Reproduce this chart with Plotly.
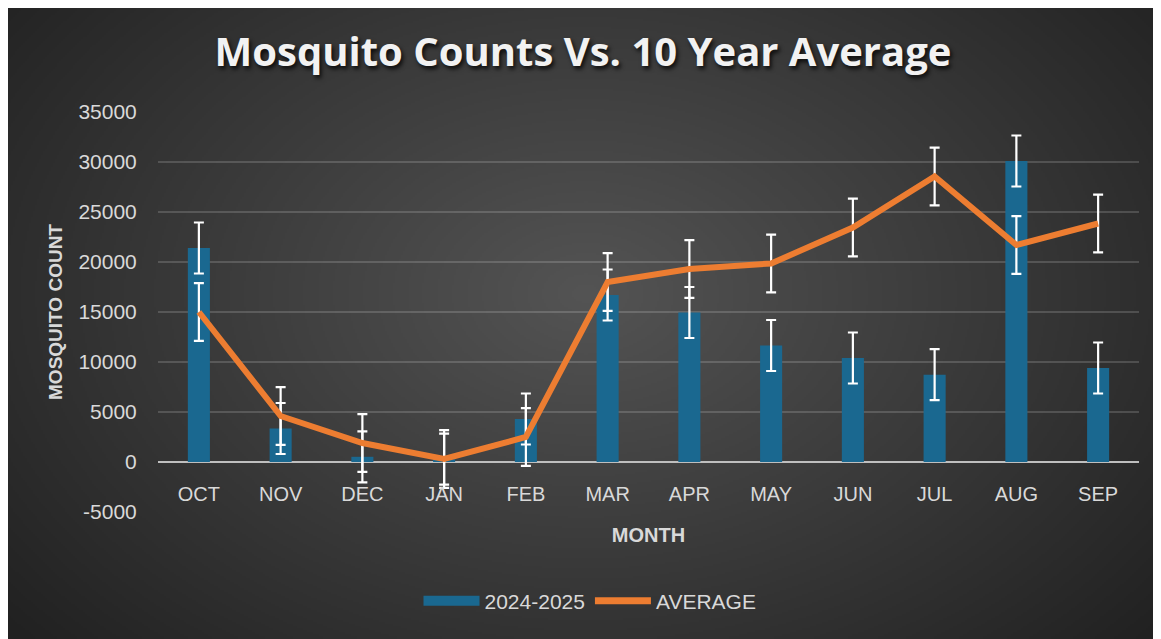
import base64, struct, zlib
import numpy as np
import plotly.graph_objects as go

months = ["OCT", "NOV", "DEC", "JAN", "FEB", "MAR", "APR", "MAY", "JUN", "JUL", "AUG", "SEP"]
counts_2024_2025 = [21400, 3350, 520, 280, 4300, 16700, 14950, 11650, 10400, 8730, 30100, 9400]
average_10yr = [15000, 4600, 1900, 300, 2500, 18000, 19300, 19850, 23450, 28550, 21700, 23850]
counts_err = 2550
average_err = 2890
y_ticks = list(range(-5000, 35001, 5000))

# page body has an 8px margin, so the figure is sized to the rest of the window
W, H = 1153, 631
ML, MR, MT, MB = 150, 22, 104, 127
PW, PH = W - ML - MR, H - MT - MB


def png_uri(arr):
    h, w, _ = arr.shape
    raw = b"".join(b"\x00" + arr[i].tobytes() for i in range(h))
    def chunk(tag, data):
        c = struct.pack(">I", len(data)) + tag + data
        return c + struct.pack(">I", zlib.crc32(tag + data) & 0xffffffff)
    png = b"\x89PNG\r\n\x1a\n" + chunk(b"IHDR", struct.pack(">IIBBBBB", w, h, 8, 2, 0, 0, 0))
    png += chunk(b"IDAT", zlib.compress(raw, 9)) + chunk(b"IEND", b"")
    return "data:image/png;base64," + base64.b64encode(png).decode()


gw, gh = 580, 316
yy, xx = np.mgrid[0:gh, 0:gw].astype(float)
r = np.sqrt(((xx - 0.5 * gw) / (0.62 * gw)) ** 2 + ((yy - 0.45 * gh) / (0.78 * gh)) ** 2)
v = 84 - 48 * np.clip(r, 0, 1.05)
img = np.repeat(v[:, :, None], 3, axis=2).astype(np.uint8)
bg = png_uri(img)

fig = go.Figure()
fig.add_trace(go.Bar(
    x=months, y=counts_2024_2025, name="2024-2025", showlegend=False,
    marker=dict(color="#1a6890", line=dict(width=0)),
    width=0.27,
    error_y=dict(type="constant", value=counts_err, color="white", thickness=2.2, width=5),
))
fig.add_trace(go.Scatter(
    x=months, y=average_10yr, name="AVERAGE", mode="lines", showlegend=False,
    line=dict(color="#ed7d31", width=6),
    error_y=dict(type="constant", value=average_err, color="white", thickness=2.2, width=5),
))
# legend swatches
fig.add_trace(go.Scatter(x=[None], y=[None], mode="lines", name="2024-2025",
                         line=dict(color="#1a6890", width=10)))
fig.add_trace(go.Scatter(x=[None], y=[None], mode="lines", name="AVERAGE",
                         line=dict(color="#ed7d31", width=7)))

tick_font = dict(family="Liberation Sans, Arial, sans-serif", size=20, color="#d9d9d9")
fig.update_layout(
    width=W, height=H,
    margin=dict(l=ML, r=MR, t=MT, b=MB),
    paper_bgcolor="#3a3a3a", plot_bgcolor="rgba(0,0,0,0)",
    images=[dict(source=bg, xref="paper", yref="paper", x=-ML / PW, y=1 + MT / PH,
                 sizex=W / PW, sizey=H / PH, xanchor="left", yanchor="top",
                 sizing="stretch", layer="below")],
    title=dict(text="<b>Mosquito Counts Vs. 10 Year Average</b>", x=575 / W, xref="container",
               y=1 - 44 / H, yref="container", xanchor="center", yanchor="middle",
               font=dict(family="Open Sans, sans-serif", size=40, color="#f2f2f2",
                         shadow="2px 3px 4px rgba(0,0,0,0.8)")),
    showlegend=True,
    legend=dict(orientation="h", x=582 / W, xref="container", xanchor="center",
                y=1 - 593 / H, yref="container", yanchor="middle",
                font=dict(family="Liberation Sans, Arial, sans-serif", size=21, color="#d9d9d9"),
                itemwidth=56, bgcolor="rgba(0,0,0,0)"),
    xaxis=dict(anchor="free", position=5000 / 40000, showgrid=False, showline=False,
               automargin=False, range=[-0.5, len(months) - 0.5],
               ticks="outside", ticklen=14, tickcolor="rgba(0,0,0,0)", tickfont=tick_font,
               title=dict(text="<b>MONTH</b>", font=dict(family="Liberation Sans, Arial, sans-serif",
                                                          size=20, color="#d9d9d9"), standoff=23)),
    yaxis=dict(range=[-5000, 35000], tickvals=y_ticks, ticktext=[str(t) for t in y_ticks],
               automargin=False,
               showgrid=True, gridcolor="rgba(255,255,255,0.16)", gridwidth=2,
               zeroline=True, zerolinecolor="#bfbfbf", zerolinewidth=2,
               ticks="outside", ticklen=16, tickcolor="rgba(0,0,0,0)",
               tickfont=dict(family="Liberation Sans, Arial, sans-serif", size=21, color="#d9d9d9"),
               title=dict(text="<b>MOSQUITO COUNT</b>", font=dict(family="Liberation Sans, Arial, sans-serif",
                                                                   size=19, color="#d9d9d9"), standoff=10)),
    bargap=0.7,
)
fig.write_html("out.html")
